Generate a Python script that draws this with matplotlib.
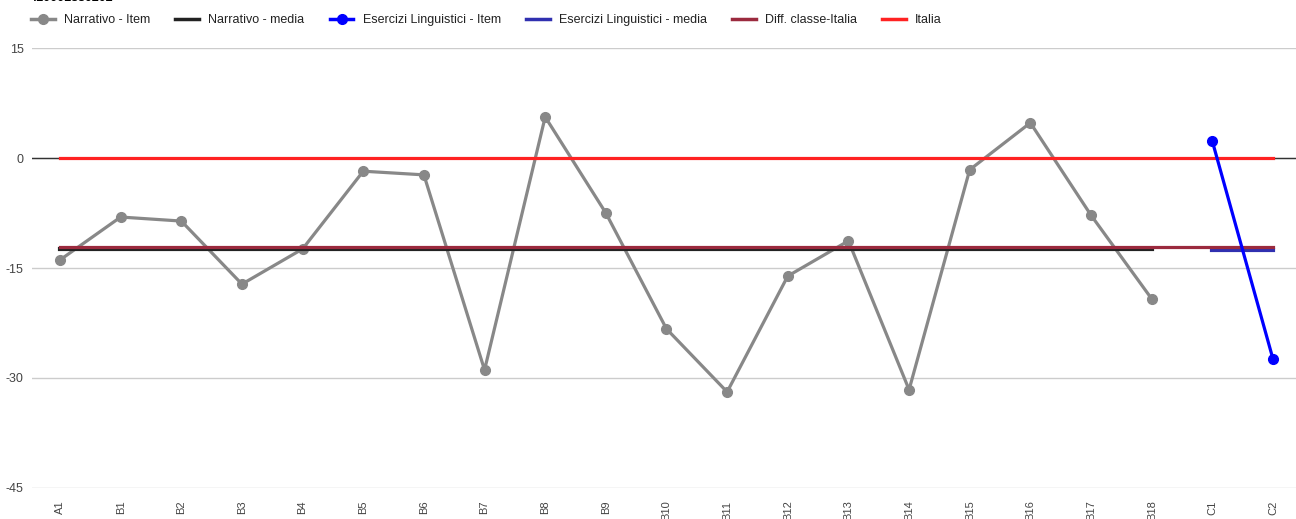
import matplotlib
matplotlib.use("Agg")
import matplotlib.pyplot as plt
from matplotlib.lines import Line2D

plt.rcParams['font.family'] = ['Liberation Sans', 'DejaVu Sans']

categories = ["A1", "B1", "B2", "B3", "B4", "B5", "B6", "B7", "B8", "B9",
              "B10", "B11", "B12", "B13", "B14", "B15", "B16", "B17", "B18",
              "C1", "C2"]
narrativo_item = [-13.9, -8.05, -8.6, -17.2, -12.4, -1.8, -2.3, -28.9, 5.6, -7.5,
                  -23.3, -31.9, -16.1, -11.3, -31.6, -1.6, 4.8, -7.8, -19.2]
narrativo_media = [-12.4] * 19
esercizi_item = [2.3, -27.4]
esercizi_media = [-12.5, -12.5]
diff_classe_italia = [-12.2] * 21
italia = [0.0] * 21
title_text = "410001880202"
yticks = [15, 0, -15, -30, -45]

W, H = 1296, 519
fig = plt.figure(figsize=(W / 100, H / 100), dpi=100)
ax = fig.add_axes([32 / W, (H - 488) / H, (W - 32) / W, 440 / H])

x_all = list(range(len(categories)))
x_narr = x_all[:19]
x_es = x_all[19:]

ax.axhline(0, color="#333333", lw=1, zorder=2)

ax.plot(x_narr, narrativo_item, color="#888888", lw=2.3, marker="o", ms=7,
        zorder=3, label="Narrativo - Item")
ax.plot(x_narr, narrativo_media, color="#222222", lw=3, zorder=4,
        label="Narrativo - media")
ax.plot(x_es, esercizi_media, color="#3030b0", lw=3, zorder=4,
        label="Esercizi Linguistici - media")
ax.plot(x_all, diff_classe_italia, color="#9b2a3e", lw=2.3, zorder=4.5,
        label="Diff. classe-Italia")
ax.plot(x_all, italia, color="#ff2222", lw=2.3, zorder=5, label="Italia")
ax.plot(x_es, esercizi_item, color="#0000ff", lw=2.3, marker="o", ms=7,
        zorder=6, label="Esercizi Linguistici - Item")

ax.set_xlim(-0.462, 20.38)
ax.set_ylim(-45, 15)
ax.set_yticks(yticks)
ax.set_yticklabels([str(v) for v in yticks])
ax.set_xticks(x_all)
ax.set_xticklabels(categories, rotation=90, va="top")
ax.tick_params(axis="y", length=0, pad=6, labelsize=9, labelcolor="#444444")
ax.tick_params(axis="x", length=0, pad=9, labelsize=8, labelcolor="#444444")
ax.grid(axis="y", color="#cccccc", lw=1, zorder=0)
for s in ax.spines.values():
    s.set_visible(False)

order = ["Narrativo - Item", "Narrativo - media", "Esercizi Linguistici - Item",
         "Esercizi Linguistici - media", "Diff. classe-Italia", "Italia"]
h, l = ax.get_legend_handles_labels()
hm = dict(zip(l, h))
handles = []
for name in order:
    src = hm[name]
    handles.append(Line2D([], [], color=src.get_color(), lw=2.5,
                          marker=src.get_marker(), ms=7))
leg = fig.legend(handles, order, loc="upper left", ncol=6,
                 bbox_to_anchor=(26 / W, 1 - 9 / H), frameon=False,
                 fontsize=9, handlelength=1.9, handletextpad=0.75,
                 columnspacing=2.0, borderaxespad=0)
for t in leg.get_texts():
    t.set_color("#222222")

fig.text(30 / W, 1 + 2 / H, title_text, fontsize=9, fontweight="bold",
         va="center", ha="left", color="#000000")

fig.savefig("out.png", dpi=100)
